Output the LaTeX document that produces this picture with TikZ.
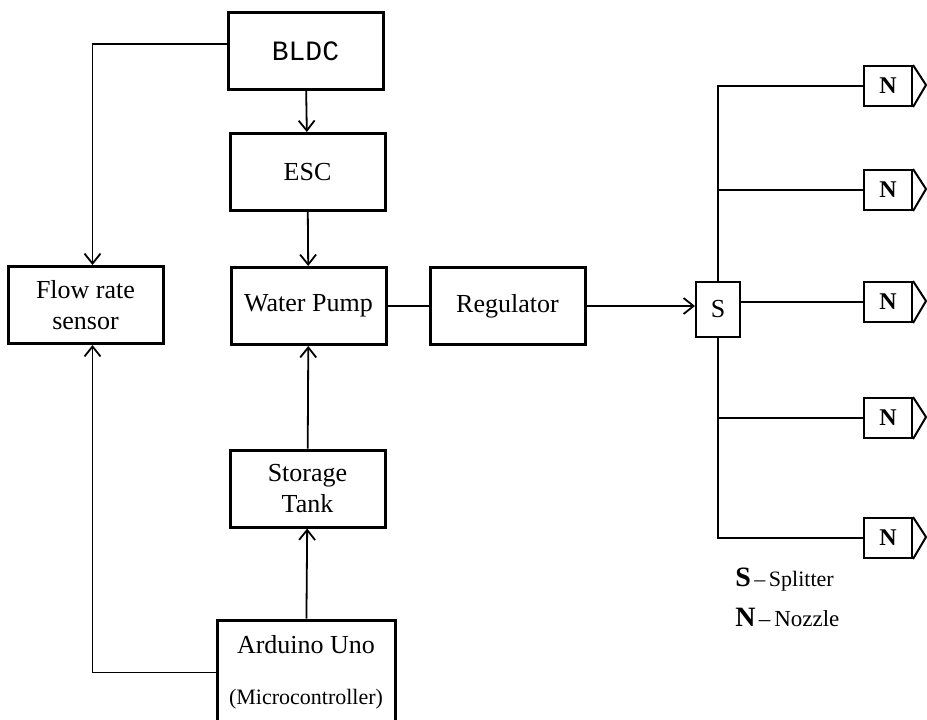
\documentclass[tikz,border=0pt]{standalone}
\usepackage{fontspec}
\setmainfont{Liberation Serif}
\newfontfamily\blockmono{Liberation Mono}
\usetikzlibrary{arrows.meta}

\begin{document}
\begin{tikzpicture}[x=0.5pt,y=-0.5pt, >={Straight Barb[length=5pt,width=8pt]}]
      \tikzstyle{block}=[draw, line width=1.5pt, minimum width=77.5pt, minimum height=38.5pt,
        align=center, inner sep=1pt, font=\fontsize{13}{15.5}\selectfont]
      \tikzstyle{nozzle}=[draw, line width=1pt, minimum width=24pt, minimum height=20pt,
        inner sep=0pt, font=\fontsize{12}{14}\selectfont\bfseries]
      \tikzstyle{link}=[line width=0.9pt]
      \useasboundingbox (0,0) rectangle (927,719);
      \fill[white] (0,0) rectangle (927,719);
      \node[block] (bldc) at (305.5,51) {\fontsize{14}{16}\selectfont\blockmono BLDC};
      \node[block] (esc) at (307.5,172) {ESC};
      \node[block] (pump) at (308.5,306) {Water Pump};
      \node[block] (flow) at (85.5,305) {Flow rate\\sensor};
      \node[block] (reg) at (507.5,306) {Regulator};
      \node[block] (tank) at (307.5,488.5) {Storage\\Tank};
      \node[block, minimum width=89pt, minimum height=52.5pt] (uno) at (306,672.5)
        {Arduino Uno\\[10pt]{\fontsize{11}{13}\selectfont(Microcontroller)}};
      \node[draw, line width=1pt, minimum width=22pt, minimum height=27.5pt, inner sep=0pt,
        font=\fontsize{13}{15}\selectfont] (split) at (718,309) {S};
      \node[nozzle] (n1) at (888,86) {N};
      \node[nozzle] (n2) at (888,190) {N};
      \node[nozzle] (n3) at (888,302) {N};
      \node[nozzle] (n4) at (888,418) {N};
      \node[nozzle] (n5) at (888,538) {N};
      \draw[line width=1pt] (n1.north east) -- ++(13,20) -- (n1.south east);
      \draw[line width=1pt] (n2.north east) -- ++(13,20) -- (n2.south east);
      \draw[line width=1pt] (n3.north east) -- ++(13,20) -- (n3.south east);
      \draw[line width=1pt] (n4.north east) -- ++(13,20) -- (n4.south east);
      \draw[line width=1pt] (n5.north east) -- ++(13,20) -- (n5.south east);
      \node[anchor=west, inner sep=0pt] (skey) at (735,580)
        {{\fontsize{14}{16}\selectfont\bfseries S}\,{\fontsize{11}{13}\selectfont--\,Splitter}};
      \node[anchor=west, inner sep=0pt] (nkey) at (735,617)
        {{\fontsize{14}{16}\selectfont\bfseries N}\,{\fontsize{11.5}{13}\selectfont--\,Nozzle}};
      \draw[link, ->] ([yshift=3.5pt]bldc.west) -| ([xshift=3.5pt]flow.north);
      \draw[link, ->] (bldc) -- (esc);
      \draw[link, ->] (esc) -- (pump);
      \draw[link] (pump) -- (reg);
      \draw[link, ->] (tank) -- (pump);
      \draw[link, ->] (uno) -- (tank);
      \draw[link, ->] (uno.west) -| ([xshift=3.5pt]flow.south);
      \draw[link, ->] (reg.east) -- (reg.east -| split.west);
      \draw[link] (split.north) |- (n1.west);
      \draw[link] (split.south) |- (n5.west);
      \draw[link] (split.north |- n2.west) -- (n2.west);
      \draw[link] (split.east |- n3.west) -- (n3.west);
      \draw[link] (split.south |- n4.west) -- (n4.west);
    \end{tikzpicture}
\end{document}
